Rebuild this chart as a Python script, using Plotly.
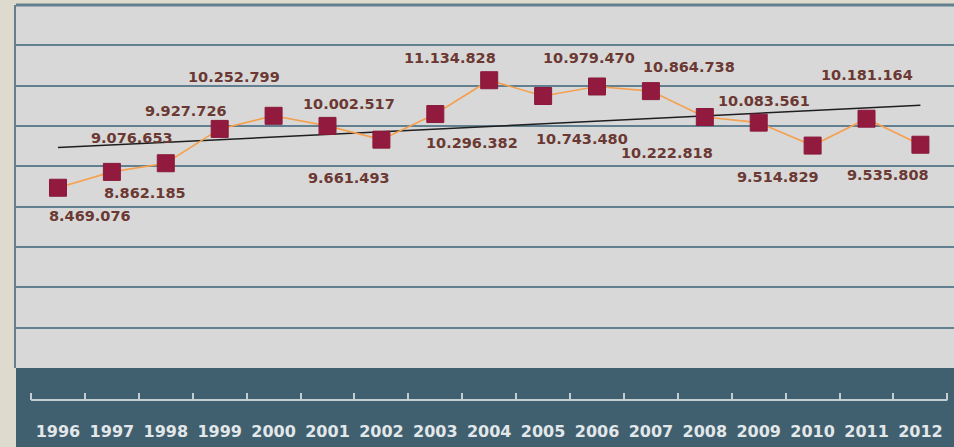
import numpy as np
import plotly.graph_objects as go

years = list(range(1996, 2013))
values = [8469076, 8862185, 9076653, 9927726, 10252799, 10002517, 9661493,
          10296382, 11134828, 10743480, 10979470, 10864738, 10222818,
          10083561, 9514829, 10181164, 9535808]
value_labels = ["8.469.076", "8.862.185", "9.076.653", "9.927.726", "10.252.799",
                "10.002.517", "9.661.493", "10.296.382", "11.134.828", "10.743.480",
                "10.979.470", "10.864.738", "10.222.818", "10.083.561", "9.514.829",
                "10.181.164", "9.535.808"]
year_labels = [str(y) for y in years]

# label placement offsets (pixels): x right, y up
label_dx = [32, 33, -34, -34, -40, 21, -32, 37, -39, 39, -8, 38, -38, 5, -35, 0, -32]
label_dy = [-28, -21, 25, 18, 39, 22, -38, -29, 22, -43, 28, 24, -36, 22, -31, 44, -30]

# linear trend
coef = np.polyfit(np.array(years, dtype=float), np.array(values, dtype=float), 1)
trend = np.polyval(coef, np.array(years, dtype=float))

W, H = 954, 447
mt, mb, ml, mr = 5, 0, 16, 0
ph = H - mt - mb
y_dom0 = (H - 368) / ph
axis_pos = (H - 400) / ph

fig = go.Figure()
fig.add_trace(go.Scatter(x=years, y=trend, mode="lines",
                         line=dict(color="#1e1e1e", width=1.5), hoverinfo="skip"))
fig.add_trace(go.Scatter(x=years, y=values, mode="lines+markers",
                         line=dict(color="#f5a04e", width=1.6),
                         marker=dict(symbol="square", size=17, color="#921a3e",
                                     line=dict(color="#8a1a3b", width=1))))

for yr, v, t, dx, dy in zip(years, values, value_labels, label_dx, label_dy):
    fig.add_annotation(x=yr, y=v, text=t, showarrow=False, xshift=dx, yshift=dy,
                       font=dict(family="DejaVu Sans", size=14.5, color="#6b3833", weight="bold"))

# teal band
fig.add_shape(type="rect", xref="paper", yref="paper", x0=0, x1=1, y0=0, y1=y_dom0,
              fillcolor="#41606f", line=dict(width=0), layer="below")
# top border of plot area
fig.add_shape(type="line", xref="paper", yref="paper", x0=0, x1=1, y0=1, y1=1,
              line=dict(color="#62808f", width=3), layer="below")
# axis line in band
fig.add_shape(type="line", xref="x", yref="paper", x0=years[0] - 0.5, x1=years[-1] + 0.5,
              y0=axis_pos, y1=axis_pos, line=dict(color="#c3ced3", width=2))

fig.update_layout(
    width=W, height=H,
    margin=dict(l=ml, r=mr, t=mt, b=mb, pad=0),
    paper_bgcolor="#dedbce",
    plot_bgcolor="#d8d8d8",
    showlegend=False,
    xaxis=dict(range=[1995.221, 2012.623], anchor="free", position=axis_pos,
               tickvals=years, ticktext=year_labels, ticks="", showline=False,
               showgrid=False, zeroline=False, automargin=False,
               ticklabelstandoff=20,
               tickfont=dict(family="DejaVu Sans", size=16, color="#e2e7ea", weight="bold"),
               minor=dict(tickvals=[y - 0.5 for y in years] + [years[-1] + 0.5],
                          ticks="inside", ticklen=7, tickwidth=2, tickcolor="#c3ced3",
                          showgrid=False)),
    yaxis=dict(domain=[y_dom0, 1], range=[4e6, 13e6], dtick=1e6, tick0=0,
               showgrid=True, gridcolor="#62808f", gridwidth=2,
               showticklabels=False, zeroline=False, showline=True,
               linecolor="#62808f", linewidth=2, automargin=False),
)

fig.write_html("out.html", config={"displayModeBar": False},
               post_script="document.body.style.margin='0';document.body.style.padding='0';"
                           "document.documentElement.style.overflow='hidden';")
